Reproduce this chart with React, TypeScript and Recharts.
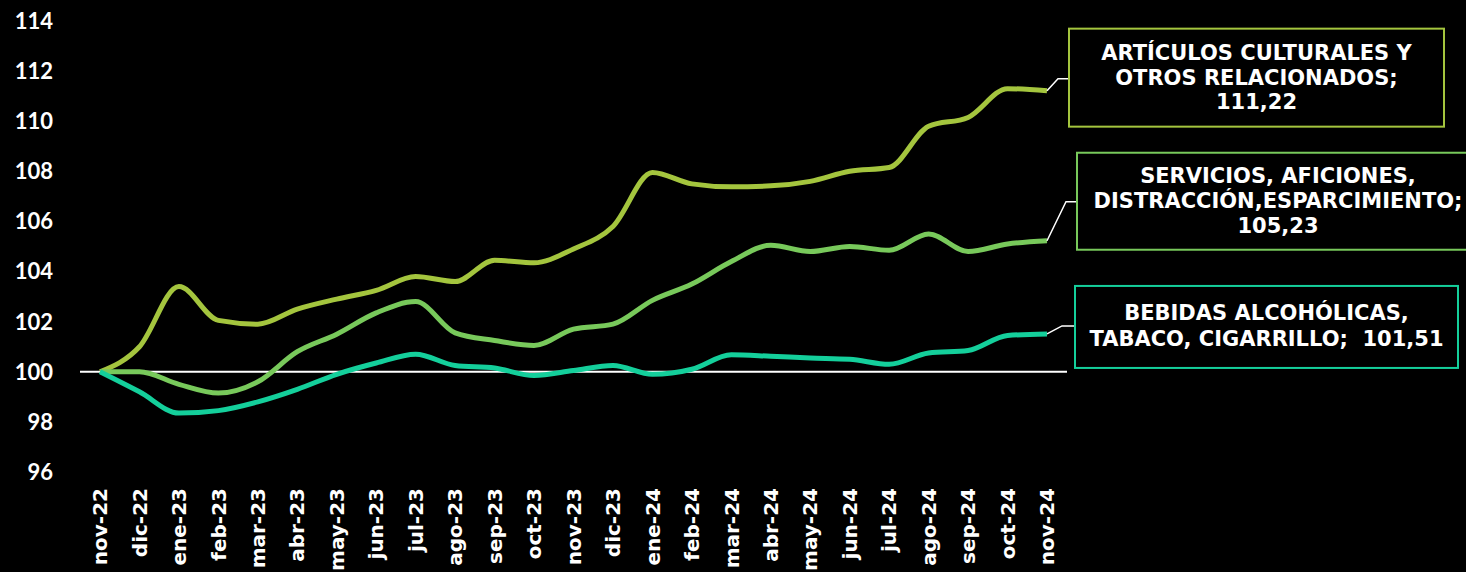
import { LineChart, Line, XAxis, YAxis, ReferenceLine, LabelList } from "recharts";

const months = [
  "nov-22", "dic-22", "ene-23", "feb-23", "mar-23", "abr-23", "may-23",
  "jun-23", "jul-23", "ago-23", "sep-23", "oct-23", "nov-23", "dic-23",
  "ene-24", "feb-24", "mar-24", "abr-24", "may-24", "jun-24", "jul-24",
  "ago-24", "sep-24", "oct-24", "nov-24",
];

const articulos = [
  100, 101.0, 103.4, 102.05, 101.9, 102.5, 102.9, 103.25, 103.8, 103.6,
  104.45, 104.35, 104.9, 105.8, 107.95, 107.5, 107.38, 107.42, 107.6, 108.0,
  108.15, 109.8, 110.15, 111.3, 111.22,
];

const servicios = [
  100, 100.0, 99.5, 99.15, 99.6, 100.8, 101.5, 102.35, 102.8, 101.55,
  101.25, 101.05, 101.7, 101.9, 102.85, 103.5, 104.4, 105.05, 104.8, 105.0,
  104.85, 105.5, 104.8, 105.1, 105.23,
];

const bebidas = [
  100, 99.2, 98.35, 98.45, 98.8, 99.3, 99.9, 100.35, 100.7, 100.25,
  100.15, 99.85, 100.05, 100.25, 99.9, 100.1, 100.68, 100.62, 100.55, 100.5,
  100.3, 100.75, 100.85, 101.45, 101.51,
];

const yTicks = [96, 98, 100, 102, 104, 106, 108, 110, 112, 114];

const data = months.map((month, i) => ({
  month,
  articulos: articulos[i],
  servicios: servicios[i],
  bebidas: bebidas[i],
}));

const COLORS = {
  articulos: "#a4c53e",
  servicios: "#78c95b",
  bebidas: "#14cf9b",
};

// callout boxes, offsets relative to the last point
const callouts = {
  articulos: {
    lines: ["ARTÍCULOS CULTURALES Y", "OTROS RELACIONADOS;", "111,22"],
    elbow: { dx: 11, dy: -12 },
    box: { dx: 22, dy: -62, w: 375, h: 98 },
    baselines: [31, 56, 80],
  },
  servicios: {
    lines: ["SERVICIOS, AFICIONES,", "DISTRACCIÓN,ESPARCIMIENTO;", "105,23"],
    elbow: { dx: 19, dy: -39 },
    box: { dx: 30, dy: -88, w: 402, h: 97 },
    baselines: [30, 55, 80],
  },
  bebidas: {
    lines: ["BEBIDAS ALCOHÓLICAS,", "TABACO, CIGARRILLO;  101,51"],
    elbow: { dx: 15, dy: -8 },
    box: { dx: 28, dy: -48, w: 383, h: 82 },
    baselines: [34, 60],
  },
};

const makeCallout = (key: keyof typeof callouts) => (props: any) => {
  const { x, y, index } = props;
  if (index !== months.length - 1) return null;
  const c = callouts[key];
  const bx = x + c.box.dx;
  const by = y + c.box.dy;
  return (
    <g>
      <path
        d={`M${x},${y} L${x + c.elbow.dx},${y + c.elbow.dy} L${bx},${y + c.elbow.dy}`}
        stroke="#ffffff"
        strokeWidth={1.5}
        fill="none"
      />
      <rect
        x={bx}
        y={by}
        width={c.box.w}
        height={c.box.h}
        fill="#000"
        stroke={COLORS[key]}
        strokeWidth={2}
      />
      {c.lines.map((line, i) => (
        <text
          key={i}
          x={bx + c.box.w / 2}
          y={by + c.baselines[i]}
          textAnchor="middle"
          fill="#ffffff"
          fontFamily="DejaVu Sans"
          fontWeight={700}
          fontSize={21}
          style={{ whiteSpace: "pre" }}
        >
          {line}
        </text>
      ))}
    </g>
  );
};

const MonthTick = (props: any) => {
  const { x, y, payload } = props;
  return (
    <text
      transform={`translate(${x},${y}) rotate(-90)`}
      textAnchor="end"
      dy="0.36em"
      fill="#ffffff"
      fontFamily="DejaVu Sans"
      fontWeight={700}
      fontSize={20}
    >
      {payload.value}
    </text>
  );
};

const ValueTick = (props: any) => {
  const { x, y, payload } = props;
  return (
    <text
      x={x}
      y={y}
      dy="0.36em"
      textAnchor="end"
      fill="#ffffff"
      fontFamily="Lato"
      fontWeight={700}
      fontSize={22}
    >
      {payload.value}
    </text>
  );
};

export default function App() {
  return (
    <div
      style={{
        position: "absolute",
        left: 0,
        top: 0,
        width: 1466,
        height: 572,
        background: "#000",
        overflow: "hidden",
      }}
    >
      <LineChart
        width={1466}
        height={572}
        data={data}
        margin={{ top: 21, right: 399, bottom: 0, left: 0 }}
        style={{ overflow: "visible" }}
      >
        <XAxis
          dataKey="month"
          interval={0}
          height={100}
          padding={{ left: 20, right: 20 }}
          axisLine={false}
          tickLine={false}
          tickSize={0}
          tickMargin={16}
          tick={<MonthTick />}
        />
        <YAxis
          domain={[96, 114]}
          ticks={yTicks}
          width={80}
          axisLine={false}
          tickLine={false}
          tickSize={0}
          tickMargin={27}
          tick={<ValueTick />}
        />
        <ReferenceLine y={100} stroke="#ffffff" strokeWidth={2} />
        <Line
          type="monotone"
          dataKey="articulos"
          stroke={COLORS.articulos}
          strokeWidth={5}
          dot={false}
          isAnimationActive={false}
        >
          <LabelList dataKey="articulos" content={makeCallout("articulos")} />
        </Line>
        <Line
          type="monotone"
          dataKey="servicios"
          stroke={COLORS.servicios}
          strokeWidth={5}
          dot={false}
          isAnimationActive={false}
        >
          <LabelList dataKey="servicios" content={makeCallout("servicios")} />
        </Line>
        <Line
          type="monotone"
          dataKey="bebidas"
          stroke={COLORS.bebidas}
          strokeWidth={5}
          dot={false}
          isAnimationActive={false}
        >
          <LabelList dataKey="bebidas" content={makeCallout("bebidas")} />
        </Line>
      </LineChart>
    </div>
  );
}
